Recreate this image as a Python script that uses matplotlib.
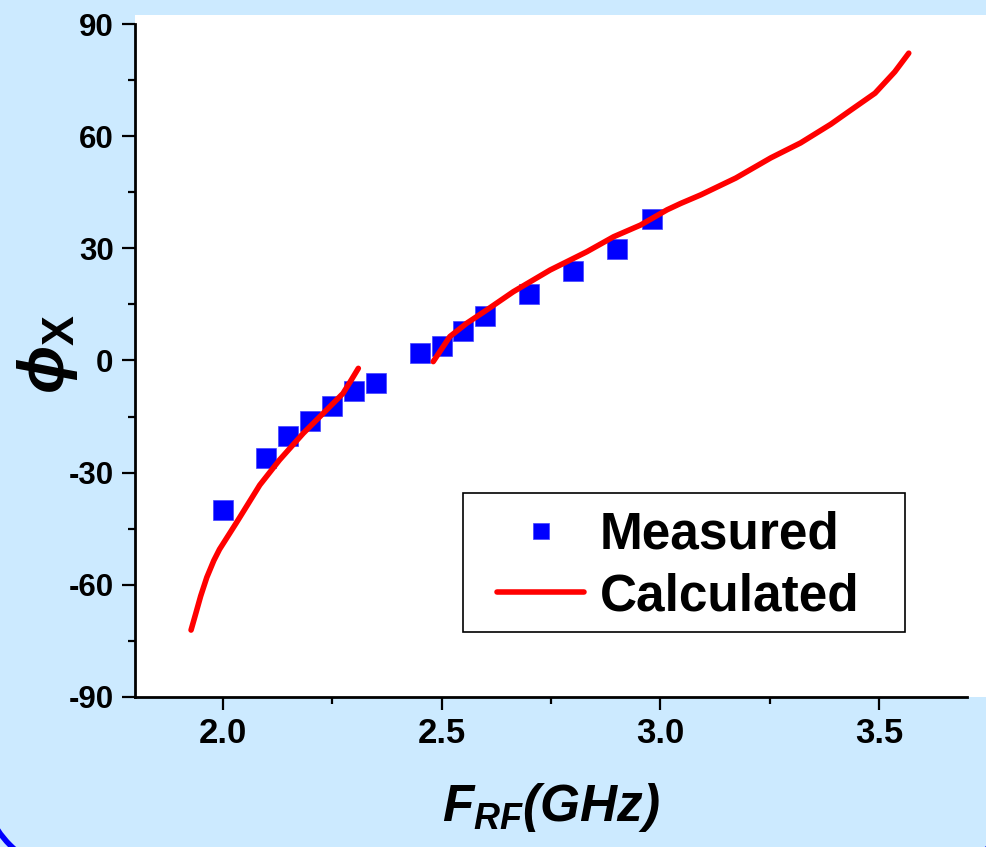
import matplotlib
matplotlib.use("Agg")
import matplotlib.pyplot as plt
from matplotlib.patches import Rectangle, Arc
from matplotlib.transforms import IdentityTransform
from matplotlib.ticker import MultipleLocator

# measured phase vs RF frequency
meas_f = [2.00, 2.10, 2.15, 2.20, 2.25, 2.30, 2.35, 2.45, 2.50, 2.55, 2.60, 2.70, 2.80, 2.90, 2.98]
meas_phi = [-40.0, -26.0, -20.2, -16.1, -12.1, -8.1, -6.0, 1.9, 4.0, 8.0, 11.9, 17.9, 24.0, 29.9, 37.9]

# calculated curve, lower branch
calc1_f = [1.928, 1.938, 1.950, 1.964, 1.980, 1.993, 2.031, 2.085, 2.130, 2.184, 2.230, 2.275, 2.294, 2.310]
calc1_phi = [-72.1, -68.0, -63.0, -58.0, -53.5, -50.5, -43.5, -33.3, -26.6, -19.5, -14.1, -8.8, -5.2, -2.1]

# calculated curve, upper branch
calc2_f = [2.481, 2.519, 2.558, 2.603, 2.664, 2.748, 2.832, 2.893, 2.954, 3.015, 3.046,
           3.092, 3.172, 3.252, 3.320, 3.389, 3.435, 3.490, 3.535, 3.567]
calc2_phi = [-0.3, 6.4, 10.0, 13.5, 18.4, 24.2, 29.1, 33.1, 36.2, 40.3, 42.0,
             44.3, 48.8, 54.2, 58.2, 63.2, 67.0, 71.5, 77.2, 82.2]

plt.rcParams['font.family'] = ['Liberation Sans', 'DejaVu Sans']
plt.rcParams['font.weight'] = 'bold'
plt.rcParams['axes.unicode_minus'] = False
plt.rcParams['mathtext.fontset'] = 'custom'
plt.rcParams['mathtext.rm'] = 'Liberation Sans:bold'
plt.rcParams['mathtext.it'] = 'Liberation Sans:bold:italic'
plt.rcParams['mathtext.bf'] = 'Liberation Sans:bold'

bg = '#cceaff'
fig = plt.figure(figsize=(9.87, 8.47), dpi=100, facecolor=bg)

# white page area behind the plot
fig.patches.append(Rectangle((135 / 987, 1 - 697 / 847), 1 - 135 / 987, (697 - 15) / 847,
                             transform=fig.transFigure, facecolor='white', edgecolor='none', zorder=0))
# blue rounded frame corners peeking in at the bottom (pixel units, origin bottom-left)
for cx, a1, a2 in [(80, 180, 270), (921, 270, 360)]:
    fig.patches.append(Arc((cx, 72), 198, 198, theta1=a1, theta2=a2,
                           transform=IdentityTransform(), edgecolor='#0000ff',
                           linewidth=4, zorder=1))

ax = fig.add_axes([135 / 987, 1 - 697 / 847, (967 - 135) / 987, (697 - 24) / 847])
ax.set_zorder(3)
ax.set_facecolor('white')

ax.plot(meas_f, meas_phi, 's', color='#0000ff', markersize=14, markeredgewidth=0.5,
        markeredgecolor='#4444ff', label='Measured', zorder=3)
ax.plot(calc1_f, calc1_phi, '-', color='#ff0000', linewidth=4, solid_capstyle='round',
        solid_joinstyle='round', label='Calculated', zorder=4)
ax.plot(calc2_f, calc2_phi, '-', color='#ff0000', linewidth=4, solid_capstyle='round',
        solid_joinstyle='round', zorder=4)

ax.set_xlim(1.8, 3.7)
ax.set_ylim(-90, 90)
ax.xaxis.set_major_locator(MultipleLocator(0.5))
ax.xaxis.set_minor_locator(MultipleLocator(0.25))
ax.yaxis.set_major_locator(MultipleLocator(30))
ax.yaxis.set_minor_locator(MultipleLocator(15))
ax.xaxis.set_major_formatter(plt.FuncFormatter(lambda v, p: f'{v:.1f}'))

for s in ['top', 'right']:
    ax.spines[s].set_visible(False)
for s in ['left', 'bottom']:
    ax.spines[s].set_linewidth(2)

ax.tick_params(which='major', direction='out', length=9.4, width=1.6)
ax.tick_params(which='minor', direction='out', length=5, width=1.6)
ax.tick_params(axis='y', labelsize=22.5, pad=6)
ax.tick_params(axis='x', labelsize=25, pad=5)

ax.set_xlabel(r'$F_{RF}$(GHz)', fontsize=37, fontstyle='italic', fontweight='bold', labelpad=22)
ax.set_ylabel(r'$\phi_{\mathrm{X}}$', fontsize=46)
ax.yaxis.set_label_coords(-0.066, 0.51)

# legend frame drawn separately, legend content without frame
ax.add_patch(Rectangle((0.394, 0.0966), 0.925 - 0.394, 0.303 - 0.0966, transform=ax.transAxes,
                       facecolor='white', edgecolor='black', linewidth=1.2, zorder=5))
leg = ax.legend(loc='upper left', bbox_to_anchor=(0.435, 0.277), borderaxespad=0, borderpad=0,
                fontsize=37, frameon=False, handlelength=1.7, handletextpad=0.3,
                labelspacing=0.25, markerscale=0.85)
leg.set_zorder(6)

fig.savefig('out.png', dpi=100, facecolor=bg)
